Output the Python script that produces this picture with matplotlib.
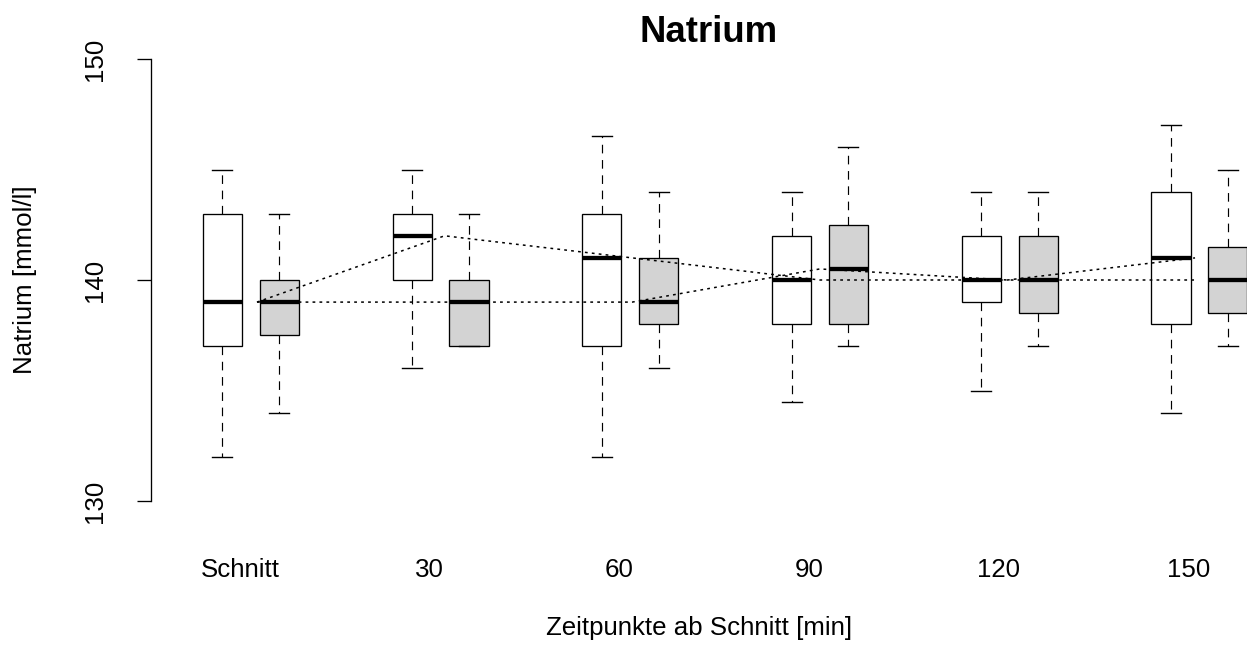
import numpy as np
import matplotlib
matplotlib.use("Agg")
import matplotlib.pyplot as plt
from matplotlib.transforms import blended_transform_factory

# ---------------- data ----------------
categories = ["Schnitt", "30", "60", "90", "120", "150"]

white_lo  = [132, 136, 132, 134.5, 135, 134]
white_q1  = [137, 140, 137, 138, 139, 138]
white_med = [139, 142, 141, 140, 140, 141]
white_q3  = [143, 143, 143, 142, 142, 144]
white_hi  = [145, 145, 146.5, 144, 144, 147]

gray_lo  = [134, 137, 136, 137, 137, 137]
gray_q1  = [137.5, 137, 138, 138, 138.5, 138.5]
gray_med = [139, 139, 139, 140.5, 140, 140]
gray_q3  = [140, 140, 141, 142.5, 142, 141.5]
gray_hi  = [143, 143, 144, 146, 144, 145]

y_ticks = [130, 140, 150]

title = "Natrium"
xlabel = "Zeitpunkte ab Schnitt [min]"
ylabel = "Natrium [mmol/l]"

# ---------------- figure ----------------
plt.rcParams["font.family"] = ["Liberation Sans", "DejaVu Sans"]
plt.rcParams["lines.scale_dashes"] = False

W, H = 1247, 646
fig = plt.figure(figsize=(W / 100, H / 100), dpi=100)

ax_left_px, ax_right_px = 150.7, 1270.0
ax_top_px, ax_bot_px = 40.0, 520.0
ax = fig.add_axes([ax_left_px / W, 1 - ax_bot_px / H,
                   (ax_right_px - ax_left_px) / W, (ax_bot_px - ax_top_px) / H])

px_per_x = 189.7
x0_px = 250.9
ax.set_xlim((ax_left_px - x0_px) / px_per_x, (ax_right_px - x0_px) / px_per_x)
px_per_y = 22.1
ax.set_ylim(140 - (ax_bot_px - 280) / px_per_y, 140 + (280 - ax_top_px) / px_per_y)

n = len(categories)
pos = np.arange(n)
off = 0.15
bw = 0.207


def stats(lo, q1, med, q3, hi):
    return [dict(whislo=a, q1=b, med=c, q3=d, whishi=e, fliers=[])
            for a, b, c, d, e in zip(lo, q1, med, q3, hi)]


common = dict(widths=bw, patch_artist=True, showfliers=False,
              medianprops=dict(color="black", linewidth=3.1, solid_capstyle="butt"),
              whiskerprops=dict(color="black", linewidth=0.85, linestyle=(0, (6.2, 4.8))),
              capprops=dict(color="black", linewidth=1.0),
              capwidths=0.105, manage_ticks=False)

ax.bxp(stats(white_lo, white_q1, white_med, white_q3, white_hi), positions=pos - off,
       boxprops=dict(facecolor="white", edgecolor="black", linewidth=0.95), **common)
ax.bxp(stats(gray_lo, gray_q1, gray_med, gray_q3, gray_hi), positions=pos + off,
       boxprops=dict(facecolor="#D3D3D3", edgecolor="black", linewidth=0.95), **common)

# dotted lines connecting medians
line_x = np.linspace(0.032, 4.977, n)
dots = (0, (2.0, 3.0))
ax.plot(line_x, white_med, color="black", linewidth=1.1, linestyle=dots, zorder=5)
ax.plot(line_x, gray_med, color="black", linewidth=1.1, linestyle=dots, zorder=5)

# axes styling
for s in ["top", "right", "bottom"]:
    ax.spines[s].set_visible(False)
ax.spines["left"].set_bounds(y_ticks[0], y_ticks[-1])
ax.spines["left"].set_linewidth(0.95)
ax.set_xticks([])
ax.set_yticks(y_ticks)
ax.set_yticklabels([])
ax.tick_params(axis="y", length=10.4, width=0.95, direction="out")

fs = 18.6
# y tick labels (rotated, like R)
ytr = blended_transform_factory(fig.transFigure, ax.transData)
for v in y_ticks:
    ax.text(102.0 / W, v, str(v), transform=ytr, rotation=90, rotation_mode="anchor",
            ha="center", va="baseline", fontsize=fs)

# x category labels
xtr = blended_transform_factory(ax.transData, fig.transFigure)
for i, c in enumerate(categories):
    ax.text(pos[i] - 0.058, 1 - 577.0 / H, c, transform=xtr, ha="center",
            va="baseline", fontsize=fs)

fig.text(699.0 / W, 1 - 635.0 / H, xlabel, ha="center", va="baseline", fontsize=fs)
fig.text(31.7 / W, 1 - 280.0 / H, ylabel, rotation=90, rotation_mode="anchor",
         ha="center", va="baseline", fontsize=fs)
fig.text(709.0 / W, 1 - 42.0 / H, title, ha="center", va="baseline",
         fontsize=26.3, fontweight="bold")

fig.savefig("out.png", dpi=100, facecolor="white")
